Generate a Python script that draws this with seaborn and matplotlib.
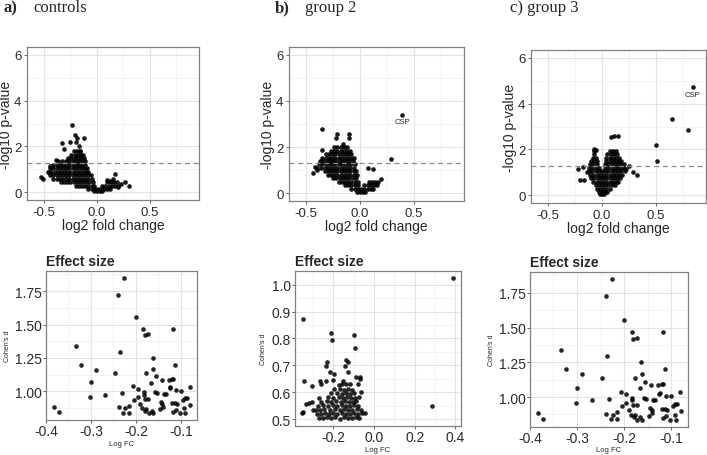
import pandas as pd
import seaborn as sns
import matplotlib.pyplot as plt
from matplotlib.ticker import MultipleLocator, FormatStrFormatter

# ---- volcano data: dense cores read row by row (y level, x values), plus sparse points
ctrl_rows = [
    (1.80, [-0.22, -0.19, -0.16]),
    (1.65, [-0.24, -0.21, -0.18, -0.15, -0.13]),
    (1.50, [-0.27, -0.24, -0.21, -0.18, -0.15, -0.12]),
    (1.35, [-0.37, -0.33, -0.29, -0.26, -0.23, -0.20, -0.17, -0.14, -0.11]),
    (1.20, [-0.41, -0.38, -0.35, -0.32, -0.29, -0.26, -0.23, -0.20, -0.17, -0.14, -0.11]),
    (1.05, [-0.44, -0.41, -0.38, -0.35, -0.32, -0.29, -0.26, -0.23, -0.20, -0.17, -0.14, -0.11, -0.09]),
    (0.90, [-0.46, -0.43, -0.40, -0.37, -0.34, -0.31, -0.28, -0.25, -0.22, -0.19, -0.16, -0.13, -0.10, -0.08]),
    (0.75, [-0.44, -0.41, -0.38, -0.35, -0.32, -0.29, -0.26, -0.23, -0.20, -0.17, -0.14, -0.11, -0.08, -0.06]),
    (0.60, [-0.41, -0.38, -0.35, -0.32, -0.29, -0.26, -0.23, -0.20, -0.17, -0.14, -0.11, -0.08, -0.05]),
    (0.45, [-0.34, -0.31, -0.28, -0.25, -0.22, -0.19, -0.16, -0.13, -0.10, -0.07, -0.04, 0.10, 0.13, 0.16, 0.19]),
    (0.30, [-0.20, -0.17, -0.14, -0.11, -0.08, -0.05, -0.03, 0.05, 0.08, 0.11, 0.14, 0.17, 0.20]),
    (0.15, [-0.08, -0.05, -0.02, 0.01, 0.04, 0.07, 0.10, 0.12]),
    (0.05, [-0.03, 0.00, 0.03, 0.05]),
]
ctrl_fc = [-0.234, -0.21, -0.19, -0.33, -0.125, -0.17, -0.31, -0.156, -0.53, -0.51, -0.45, -0.44,
           -0.39, 0.156, 0.125, 0.266, 0.306, 0.17, 0.20, 0.23, 0.10, -0.25, -0.20]
ctrl_p = [2.92, 2.50, 2.35, 2.16, 2.36, 2.04, 1.90, 1.82, 0.66, 0.58, 0.87, 1.17,
          1.39, 0.58, 0.51, 0.44, 0.29, 0.80, 0.22, 0.35, 0.55, 2.20, 2.20]

g2_rows = [
    (2.00, [-0.24, -0.21, -0.18, -0.15, -0.12]),
    (1.85, [-0.27, -0.24, -0.21, -0.18, -0.15, -0.12, -0.09]),
    (1.70, [-0.32, -0.29, -0.26, -0.23, -0.20, -0.17, -0.14, -0.11, -0.08]),
    (1.55, [-0.35, -0.32, -0.29, -0.26, -0.23, -0.20, -0.17, -0.14, -0.11, -0.08, -0.06]),
    (1.40, [-0.37, -0.34, -0.31, -0.28, -0.25, -0.22, -0.19, -0.16, -0.13, -0.10, -0.07]),
    (1.25, [-0.38, -0.35, -0.32, -0.29, -0.26, -0.23, -0.20, -0.17, -0.14, -0.11, -0.08, -0.05]),
    (1.10, [-0.40, -0.36, -0.33, -0.30, -0.27, -0.24, -0.21, -0.18, -0.15, -0.12, -0.09, -0.06]),
    (0.95, [-0.33, -0.30, -0.27, -0.24, -0.21, -0.18, -0.15, -0.12, -0.09, -0.06, -0.04]),
    (0.80, [-0.30, -0.27, -0.24, -0.21, -0.18, -0.15, -0.12, -0.09, -0.06, -0.03]),
    (0.65, [-0.25, -0.22, -0.19, -0.16, -0.13, -0.10, -0.07, -0.04]),
    (0.50, [-0.20, -0.17, -0.14, -0.11, -0.08, -0.05, -0.02, 0.08, 0.11, 0.14, 0.17]),
    (0.35, [-0.14, -0.11, -0.08, -0.05, -0.02, 0.04, 0.07, 0.10, 0.13, 0.16]),
    (0.20, [-0.08, -0.05, -0.02, 0.01, 0.04, 0.07, 0.10, 0.12]),
    (0.05, [-0.03, 0.00, 0.03, 0.05]),
]
g2_fc = [0.39, 0.29, -0.355, -0.21, -0.104, -0.22, -0.10, -0.35, 0.07, 0.116, 0.195, -0.44, -0.42, -0.40, -0.16]
g2_p = [3.39, 1.50, 2.77, 2.55, 2.55, 2.41, 2.41, 1.87, 1.09, 1.05, 0.62, 0.90, 1.12, 1.00, 2.15]

g3_rows = [
    (1.95, [-0.075, 0.07, 0.10, 0.13]),
    (1.80, [-0.07, 0.05, 0.08, 0.11, 0.14]),
    (1.65, [-0.08, -0.06, 0.04, 0.07, 0.10, 0.13, 0.16]),
    (1.50, [-0.10, -0.07, -0.05, 0.04, 0.07, 0.10, 0.13, 0.16, 0.18]),
    (1.35, [-0.11, -0.08, -0.05, 0.03, 0.06, 0.09, 0.12, 0.15, 0.18, 0.20]),
    (1.20, [-0.12, -0.09, -0.06, -0.03, 0.03, 0.06, 0.09, 0.12, 0.15, 0.18, 0.20]),
    (1.05, [-0.12, -0.09, -0.06, -0.03, 0.00, 0.03, 0.06, 0.09, 0.12, 0.15, 0.18, 0.21]),
    (0.90, [-0.11, -0.08, -0.05, -0.02, 0.01, 0.04, 0.07, 0.10, 0.13, 0.16, 0.19]),
    (0.75, [-0.10, -0.07, -0.04, -0.01, 0.02, 0.05, 0.08, 0.11, 0.14, 0.17]),
    (0.60, [-0.08, -0.05, -0.02, 0.01, 0.04, 0.07, 0.10, 0.13, 0.15]),
    (0.45, [-0.06, -0.03, 0.00, 0.03, 0.06, 0.09, 0.12]),
    (0.30, [-0.05, -0.02, 0.01, 0.04, 0.07]),
    (0.15, [-0.03, 0.00, 0.03, 0.05]),
    (0.05, [-0.02, 0.00, 0.02]),
]
g3_fc = [0.844, 0.653, 0.80, 0.50, 0.506, 0.086, 0.108, 0.15, -0.073, -0.057, -0.22, -0.18,
         0.325, 0.29, -0.17, -0.20, 0.25, 0.22, -0.14]
g3_p = [4.70, 3.34, 2.84, 2.21, 1.49, 2.53, 2.57, 2.60, 2.03, 1.96, 1.17, 1.24,
        0.91, 1.03, 0.67, 0.67, 1.30, 1.15, 1.00]

# ---- effect size data (controls and group 3 panels show the same points)
es_fc = [-0.383, -0.372, -0.333, -0.323, -0.289, -0.301, -0.302, -0.268, -0.247, -0.239, -0.226,
         -0.236, -0.232, -0.238, -0.228, -0.224, -0.215, -0.215, -0.200, -0.206, -0.196, -0.205,
         -0.196, -0.190, -0.184, -0.180, -0.173, -0.182, -0.182, -0.180, -0.173, -0.186, -0.179,
         -0.177, -0.172, -0.177, -0.163, -0.161, -0.166, -0.165, -0.161, -0.156, -0.158, -0.154,
         -0.146, -0.142, -0.144, -0.141, -0.140, -0.138, -0.134, -0.127, -0.125, -0.124, -0.120,
         -0.117, -0.118, -0.113, -0.120, -0.118, -0.110, -0.110, -0.100, -0.108, -0.103, -0.096,
         -0.091, -0.087, -0.092, -0.090, -0.080, -0.079, -0.113]
es_d = [0.886, 0.845, 1.338, 1.200, 1.164, 1.069, 0.955, 0.976, 1.140, 1.724, 1.850,
        1.295, 0.986, 0.881, 0.840, 0.874, 0.840, 0.893, 1.557, 1.040, 1.020, 0.933,
        0.957, 0.907, 1.469, 1.421, 1.426, 0.993, 0.976, 0.945, 0.945, 0.874, 0.855,
        0.869, 0.838, 1.136, 1.250, 1.169, 1.062, 0.857, 0.838, 1.112, 0.993, 0.986,
        0.867, 1.088, 0.921, 0.905, 0.886, 0.981, 0.981, 1.088, 1.024, 1.033, 1.095,
        1.093, 1.469, 1.200, 0.917, 0.850, 0.862, 1.010, 1.005, 0.910, 0.838, 0.933,
        0.952, 0.952, 0.874, 0.838, 1.036, 0.898, 0.914]

es2_fc = [0.39, 0.286, -0.35, -0.345, -0.21, -0.207, -0.10, -0.092, -0.23, -0.235, -0.14, -0.128,
          -0.141, -0.219, -0.197, -0.128, -0.07, -0.067, -0.09, -0.268, -0.235, -0.306, -0.35,
          -0.353, -0.334, -0.322, -0.304, -0.284, -0.062,
          -0.27, -0.25, -0.23, -0.21, -0.19, -0.17, -0.15, -0.13, -0.11, -0.09, -0.075,
          -0.28, -0.26, -0.24, -0.22, -0.20, -0.18, -0.16, -0.14, -0.12, -0.10, -0.08, -0.06, -0.045,
          -0.30, -0.265, -0.245, -0.215, -0.19, -0.17, -0.15, -0.13, -0.11, -0.085, -0.065,
          -0.275, -0.25, -0.225, -0.20, -0.18, -0.16, -0.14, -0.12, -0.10, -0.08,
          -0.26, -0.23, -0.21, -0.185, -0.165, -0.145, -0.125, -0.105, -0.09,
          -0.27, -0.225, -0.20, -0.175, -0.155, -0.135, -0.115, -0.095, -0.075,
          -0.21, -0.18, -0.16, -0.14, -0.12, -0.10,
          -0.195, -0.17, -0.15, -0.13, -0.11,
          -0.26, -0.175, -0.16, -0.14, -0.12, -0.08, -0.20, -0.155]
es2_d = [1.025, 0.547, 0.871, 0.641, 0.820, 0.796, 0.813, 0.765, 0.714, 0.699, 0.718, 0.714,
         0.699, 0.674, 0.668, 0.674, 0.655, 0.649, 0.658, 0.641, 0.643, 0.624, 0.525,
         0.521, 0.556, 0.558, 0.562, 0.534, 0.600,
         0.505, 0.502, 0.507, 0.503, 0.506, 0.501, 0.508, 0.504, 0.502, 0.506, 0.503,
         0.520, 0.518, 0.522, 0.519, 0.521, 0.517, 0.523, 0.520, 0.518, 0.522, 0.519, 0.521, 0.524,
         0.535, 0.533, 0.537, 0.534, 0.536, 0.532, 0.538, 0.535, 0.533, 0.537, 0.534,
         0.550, 0.552, 0.548, 0.551, 0.549, 0.553, 0.550, 0.548, 0.552, 0.550,
         0.565, 0.567, 0.563, 0.566, 0.564, 0.568, 0.565, 0.563, 0.566,
         0.580, 0.582, 0.578, 0.581, 0.579, 0.583, 0.580, 0.578, 0.581,
         0.595, 0.597, 0.593, 0.596, 0.594, 0.597,
         0.610, 0.612, 0.608, 0.611, 0.609,
         0.630, 0.628, 0.632, 0.629, 0.631, 0.630, 0.645, 0.643]


def volcano_frame(rows, extra_fc, extra_p):
    fc, p = [], []
    for y, xs in rows:
        fc += xs
        p += [y] * len(xs)
    return pd.DataFrame({"fc": fc + extra_fc, "p": p + extra_p})


def bw(ax, size, tlen=2.5, tpad=1.5):
    # ggplot theme_bw look-alike
    ax.set_facecolor("white")
    for s in ax.spines.values():
        s.set_visible(True)
        s.set_color("#808080")
        s.set_linewidth(0.9)
    ax.grid(which="major", color="#e3e3e3", lw=0.8)
    ax.grid(which="minor", color="#efefef", lw=0.5)
    ax.set_axisbelow(True)
    ax.tick_params(which="major", length=tlen, width=0.7, color="#666666",
                   labelcolor="#2b2b2b", labelsize=size, pad=tpad,
                   bottom=True, left=True)
    ax.tick_params(which="minor", length=0)


sns.set_style("white")
plt.rcParams["font.family"] = ["Liberation Sans", "DejaVu Sans"]
plt.rcParams["axes.unicode_minus"] = False

fig = plt.figure(figsize=(7.07, 4.56), dpi=100)

top_pos = [[0.0382, 0.5592, 0.2433, 0.3355],
           [0.4088, 0.5570, 0.2475, 0.3377],
           [0.7510, 0.5526, 0.2475, 0.3355]]
bot_pos = [[0.0651, 0.0768, 0.2136, 0.3268],
           [0.4173, 0.0636, 0.2348, 0.3399],
           [0.7496, 0.0620, 0.2235, 0.3393]]

volcanos = [volcano_frame(ctrl_rows, ctrl_fc, ctrl_p),
            volcano_frame(g2_rows, g2_fc, g2_p),
            volcano_frame(g3_rows, g3_fc, g3_p)]
csp = [None, (0.39, 3.12), (0.844, 4.40)]

for pos, df, lab in zip(top_pos, volcanos, csp):
    ax = fig.add_axes(pos)
    sns.scatterplot(data=df, x="fc", y="p", color="black", s=11, linewidth=0,
                    alpha=0.9, ax=ax, legend=False)
    ax.axhline(1.3, color="#8a8a8a", ls=(0, (4, 3)), lw=0.9)
    if lab is not None:
        ax.text(lab[0], lab[1], "CSP", fontsize=5.5, ha="center", va="center")
    ax.set_xlim(-0.66, 0.965)
    ax.set_ylim(-0.33, 6.33)
    ax.set_xticks([-0.5, 0.0, 0.5])
    ax.set_yticks([0, 2, 4, 6])
    ax.xaxis.set_minor_locator(MultipleLocator(0.25))
    ax.yaxis.set_minor_locator(MultipleLocator(1))
    ax.xaxis.set_major_formatter(FormatStrFormatter("%.1f"))
    ax.yaxis.set_major_formatter(FormatStrFormatter("%d"))
    bw(ax, 9.5)
    ax.set_xlabel("log2 fold change", fontsize=10, labelpad=0)
    ax.set_ylabel("-log10 p-value", fontsize=10, labelpad=1)

es_frames = [pd.DataFrame({"fc": es_fc, "d": es_d}),
             pd.DataFrame({"fc": es2_fc, "d": es2_d}),
             pd.DataFrame({"fc": es_fc, "d": es_d})]

for i, (pos, df) in enumerate(zip(bot_pos, es_frames)):
    ax = fig.add_axes(pos)
    sns.scatterplot(data=df, x="fc", y="d", color="black", s=11, linewidth=0,
                    alpha=0.85, ax=ax, legend=False)
    if i == 1:
        ax.set_xlim(-0.389, 0.428)
        ax.set_ylim(0.474, 1.051)
        ax.set_xticks([-0.2, 0.0, 0.2, 0.4])
        ax.set_yticks([0.5, 0.6, 0.7, 0.8, 0.9, 1.0])
        ax.xaxis.set_minor_locator(MultipleLocator(0.1))
        ax.yaxis.set_minor_locator(MultipleLocator(0.05))
        ax.yaxis.set_major_formatter(FormatStrFormatter("%.1f"))
    else:
        ax.set_xlim(-0.399, -0.064)
        ax.set_ylim(0.787, 1.9)
        ax.set_xticks([-0.4, -0.3, -0.2, -0.1])
        ax.set_yticks([1.0, 1.25, 1.5, 1.75])
        ax.xaxis.set_minor_locator(MultipleLocator(0.05))
        ax.yaxis.set_minor_locator(MultipleLocator(0.125))
        ax.yaxis.set_major_formatter(FormatStrFormatter("%.2f"))
    ax.xaxis.set_major_formatter(FormatStrFormatter("%.1f"))
    bw(ax, 10, tlen=2, tpad=1)
    ax.set_title("Effect size", loc="left", fontweight="bold", fontsize=10, pad=4)
    ax.set_xlabel("Log FC", fontsize=5.5, labelpad=1)
    ax.set_ylabel("Cohen's d", fontsize=5, labelpad=3)

serif = ["Liberation Serif", "DejaVu Serif"]
ty = 1 - 8 / 456
fig.text(3 / 707, ty, "a)", family=serif, fontweight="bold", fontsize=12, va="center")
fig.text(33 / 707, ty, "controls", family=serif, fontsize=12, va="center")
fig.text(275 / 707, ty, "b)", family=serif, fontweight="bold", fontsize=12, va="center")
fig.text(305 / 707, ty, "group 2", family=serif, fontsize=12, va="center")
fig.text(510 / 707, ty, "c) group 3", family=serif, fontsize=12, va="center")

fig.savefig("out.png", dpi=100)
